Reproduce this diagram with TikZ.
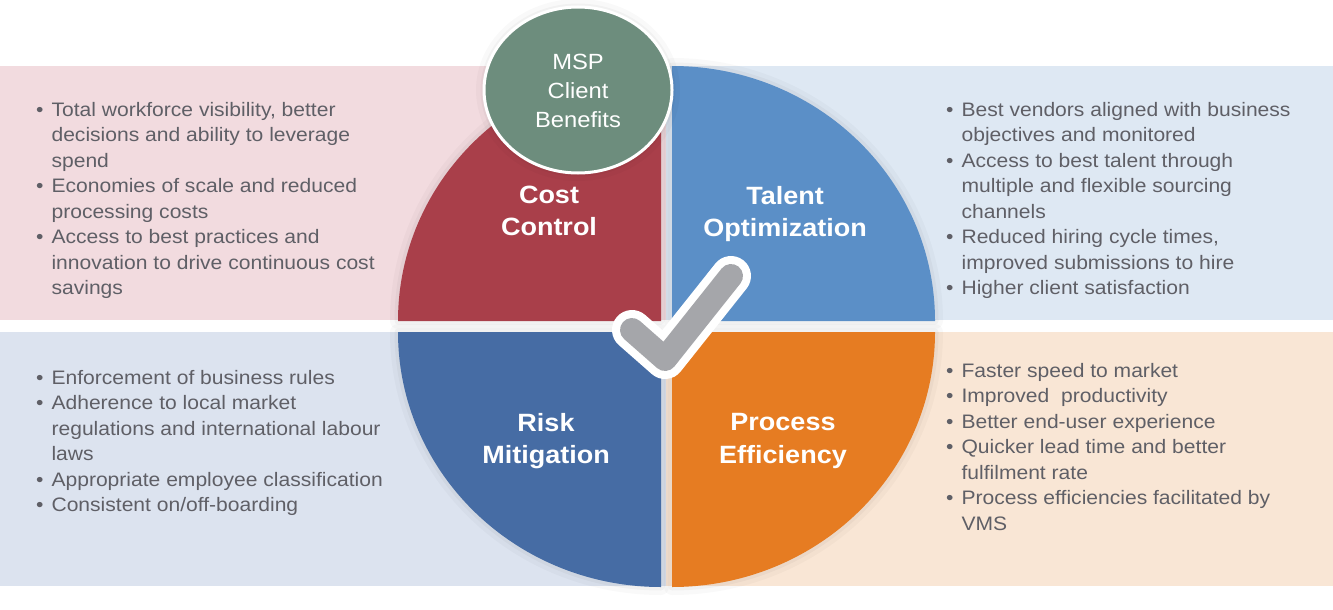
\documentclass[tikz,border=0pt]{standalone}
\usepackage{fontspec}
\setmainfont[FakeStretch=1.08]{Liberation Sans}
\usetikzlibrary{calc}
\definecolor{costred}{HTML}{A93F4A}
\definecolor{talentblue}{HTML}{5B8FC7}
\definecolor{riskblue}{HTML}{466CA4}
\definecolor{procorange}{HTML}{E67C22}
\definecolor{mspgreen}{HTML}{6D8D7D}
\definecolor{tickgray}{HTML}{A5A6AA}
\definecolor{pinkpanel}{HTML}{F2DBDF}
\definecolor{bluepanel}{HTML}{DEE8F3}
\definecolor{greypanel}{HTML}{DCE3EF}
\definecolor{peachpanel}{HTML}{F9E6D5}
\definecolor{bodytext}{HTML}{5F5F66}
\newcommand{\benefitlist}[1]{\begin{tabular}{@{}l@{\hspace{8pt}}l@{}}#1\end{tabular}}

\begin{document}
\begin{tikzpicture}[x=1pt,y=-1pt,
  list/.style={anchor=north west,inner sep=0pt,text=bodytext,font=\fontsize{19.5}{25.5}\selectfont},
  quarter/.style={preaction={draw=black,opacity=.025,line width=16pt,line join=round},
    preaction={draw=black,opacity=.03,line width=7pt,line join=round}},
  quadlabel/.style={text=white,align=center,inner sep=0pt,font=\fontsize{25}{32.5}\selectfont\bfseries}]
  \useasboundingbox (0,0) rectangle (1333,610);
  % background panels
  \fill[pinkpanel] (0,66) rectangle (666,320);
  \fill[bluepanel] (666,66) rectangle (1333,320);
  \fill[greypanel] (0,332) rectangle (666,586);
  \fill[peachpanel] (666,332) rectangle (1333,586);
  % the four quarters
  \fill[costred,quarter] (661,321) -- (398,321) arc[start angle=180,end angle=270,x radius=263,y radius=255] -- cycle;
  \fill[talentblue,quarter] (672,321) -- (672,66) arc[start angle=270,end angle=360,x radius=263,y radius=255] -- cycle;
  \fill[riskblue,quarter] (661,332) -- (661,587) arc[start angle=90,end angle=180,x radius=263,y radius=255] -- cycle;
  \fill[procorange,quarter] (672,332) -- (935,332) arc[start angle=0,end angle=90,x radius=263,y radius=255] -- cycle;
  \node[quadlabel] (cost) at (549,211) {Cost\\Control};
  \node[quadlabel] (talent) at (785,214) {Talent\\Optimization};
  \node[quadlabel] (risk) at (546,441) {Risk\\Mitigation};
  \node[quadlabel] (process) at (783,441) {Process\\Efficiency};
  % tick in the middle
  \draw[white,line width=40pt,line cap=round,line join=round] (632,330) -- (665,359) -- (731,276);
  \draw[tickgray,line width=24pt,line cap=round,line join=round] (632,330) -- (665,359) -- (731,276);
  % title disc
  \filldraw[fill=mspgreen,draw=white,line width=3pt,quarter] (578,90) ellipse[x radius=94,y radius=83];
  \node[text=white,align=center,font=\fontsize{22}{29}\selectfont] (msp) at (578,91) {MSP\\Client\\Benefits};
  % bullet lists
  \node[list] (costlist) at (36,98) {\benefitlist{
    \textbullet & Total workforce visibility, better\\
    & decisions and ability to leverage\\
    & spend\\
    \textbullet & Economies of scale and reduced\\
    & processing costs\\
    \textbullet & Access to best practices and\\
    & innovation to drive continuous cost\\
    & savings}};
  \node[list] (talentlist) at (946,98) {\benefitlist{
    \textbullet & Best vendors aligned with business\\
    & objectives and monitored\\
    \textbullet & Access to best talent through\\
    & multiple and flexible sourcing\\
    & channels\\
    \textbullet & Reduced hiring cycle times,\\
    & improved submissions to hire\\
    \textbullet & Higher client satisfaction}};
  \node[list] (risklist) at (36,366) {\benefitlist{
    \textbullet & Enforcement of business rules\\
    \textbullet & Adherence to local market\\
    & regulations and international labour\\
    & laws\\
    \textbullet & Appropriate employee classification\\
    \textbullet & Consistent on/off-boarding}};
  \node[list] (processlist) at (946,359) {\benefitlist{
    \textbullet & Faster speed to market\\
    \textbullet & Improved\hspace{6pt} productivity\\
    \textbullet & Better end-user experience\\
    \textbullet & Quicker lead time and better\\
    & fulfilment rate\\
    \textbullet & Process efficiencies facilitated by\\
    & VMS}};
\end{tikzpicture}
\end{document}
